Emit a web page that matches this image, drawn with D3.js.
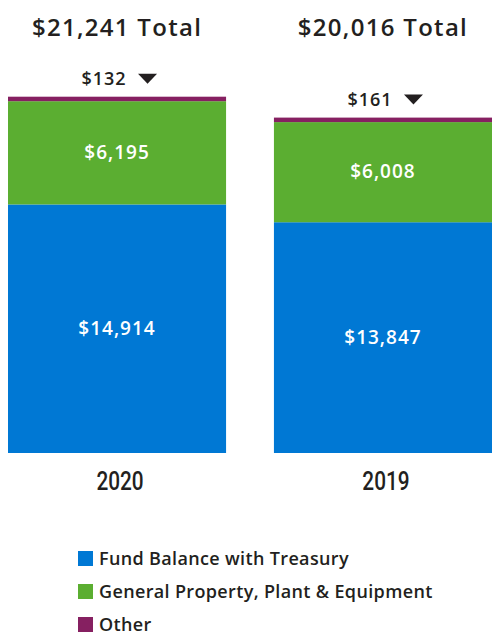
<!DOCTYPE html>
<html>
<head>
<meta charset="utf-8">
<script src="https://cdn.jsdelivr.net/npm/d3@7"></script>
<style>
  body { margin: 0; background: #fff; }
  text { font-family: "Open Sans", sans-serif; fill: #231f20; }
</style>
</head>
<body>
<script>
// chart data
const years = ['2020', '2019'];
const categories = ['Fund Balance with Treasury', 'General Property, Plant & Equipment', 'Other'];
const fundBalance = [14914, 13847];
const propertyPlant = [6195, 6008];
const other = [132, 161];
const totals = [21241, 20016];

const colors = ['#0078d4', '#5bae31', '#862061'];

const width = 492, height = 632;
const svg = d3.select('body').append('svg')
  .attr('width', width)
  .attr('height', height);

const rows = years.map((y, i) => ({
  year: y,
  fund: fundBalance[i],
  ppe: propertyPlant[i],
  other: other[i],
  total: totals[i]
}));

const keys = ['fund', 'ppe', 'other'];
const stack = d3.stack().keys(keys)(rows);

const x = d3.scaleBand()
  .domain(years)
  .range([8, 492])
  .paddingInner(0.18)
  .paddingOuter(0);

const y = d3.scaleLinear()
  .domain([0, 21241])
  .range([453, 99]);

const fmt = d3.format('$,');
const minH = 4.5; // keep the thin "Other" strip visible

const segTop = d => y(d[0]) - Math.max(y(d[0]) - y(d[1]), minH);

// bars
stack.forEach((layer, li) => {
  svg.append('g').selectAll('rect')
    .data(layer)
    .join('rect')
    .attr('x', d => x(d.data.year))
    .attr('width', x.bandwidth())
    .attr('y', segTop)
    .attr('height', d => y(d[0]) - segTop(d))
    .attr('fill', colors[li]);
});

// labels inside the big segments
stack.slice(0, 2).forEach(layer => {
  svg.append('g').selectAll('text')
    .data(layer)
    .join('text')
    .attr('x', d => x(d.data.year) + x.bandwidth() / 2)
    .attr('y', d => (y(d[0]) + y(d[1])) / 2 + 6)
    .attr('text-anchor', 'middle')
    .style('fill', '#fff')
    .style('font-size', '19px')
    .style('font-weight', 600)
    .style('letter-spacing', '1px')
    .text(d => fmt(d[1] - d[0]));
});

// "Other" labels with arrow above the bars
const otherG = svg.append('g').selectAll('g')
  .data(stack[2])
  .join('g')
  .attr('transform', d => `translate(${x(d.data.year) + x.bandwidth() / 2},${segTop(d) - 12})`);

otherG.append('text')
  .attr('x', -13)
  .attr('text-anchor', 'middle')
  .style('font-size', '18px')
  .style('font-weight', 600)
  .style('letter-spacing', '1px')
  .text(d => fmt(d[1] - d[0]));

otherG.append('path')
  .attr('d', 'M21,-11 L40,-11 L30.5,-1 Z')
  .attr('fill', '#231f20');

// totals
svg.append('g').selectAll('text')
  .data(rows)
  .join('text')
  .attr('x', d => x(d.year) + x.bandwidth() / 2)
  .attr('y', 36)
  .attr('text-anchor', 'middle')
  .style('font-size', '24px')
  .style('font-weight', 600)
  .style('letter-spacing', '1.3px')
  .text(d => fmt(d.total) + ' Total');

// year axis
const xAxis = d3.axisBottom(x).tickSize(0).tickPadding(0);
const ax = svg.append('g')
  .attr('transform', 'translate(0,472)')
  .call(xAxis);
ax.select('.domain').remove();
ax.selectAll('.tick text')
  .attr('dy', '0.71em')
  .attr('transform', 'translate(3,0) scale(0.8,1)')
  .style('font-family', 'Roboto, sans-serif')
  .style('font-size', '26px')
  .style('font-weight', 500)
  .style('fill', '#231f20');

// legend
const legend = svg.append('g').selectAll('g')
  .data(categories)
  .join('g')
  .attr('transform', (d, i) => `translate(78,${551 + i * 33})`);

legend.append('rect')
  .attr('width', 15)
  .attr('height', 15)
  .attr('fill', (d, i) => colors[i]);

legend.append('text')
  .attr('x', 21)
  .attr('y', 14)
  .style('font-size', '18px')
  .style('font-weight', 600)
  .style('letter-spacing', '0.35px')
  .text(d => d);
</script>
</body>
</html>
